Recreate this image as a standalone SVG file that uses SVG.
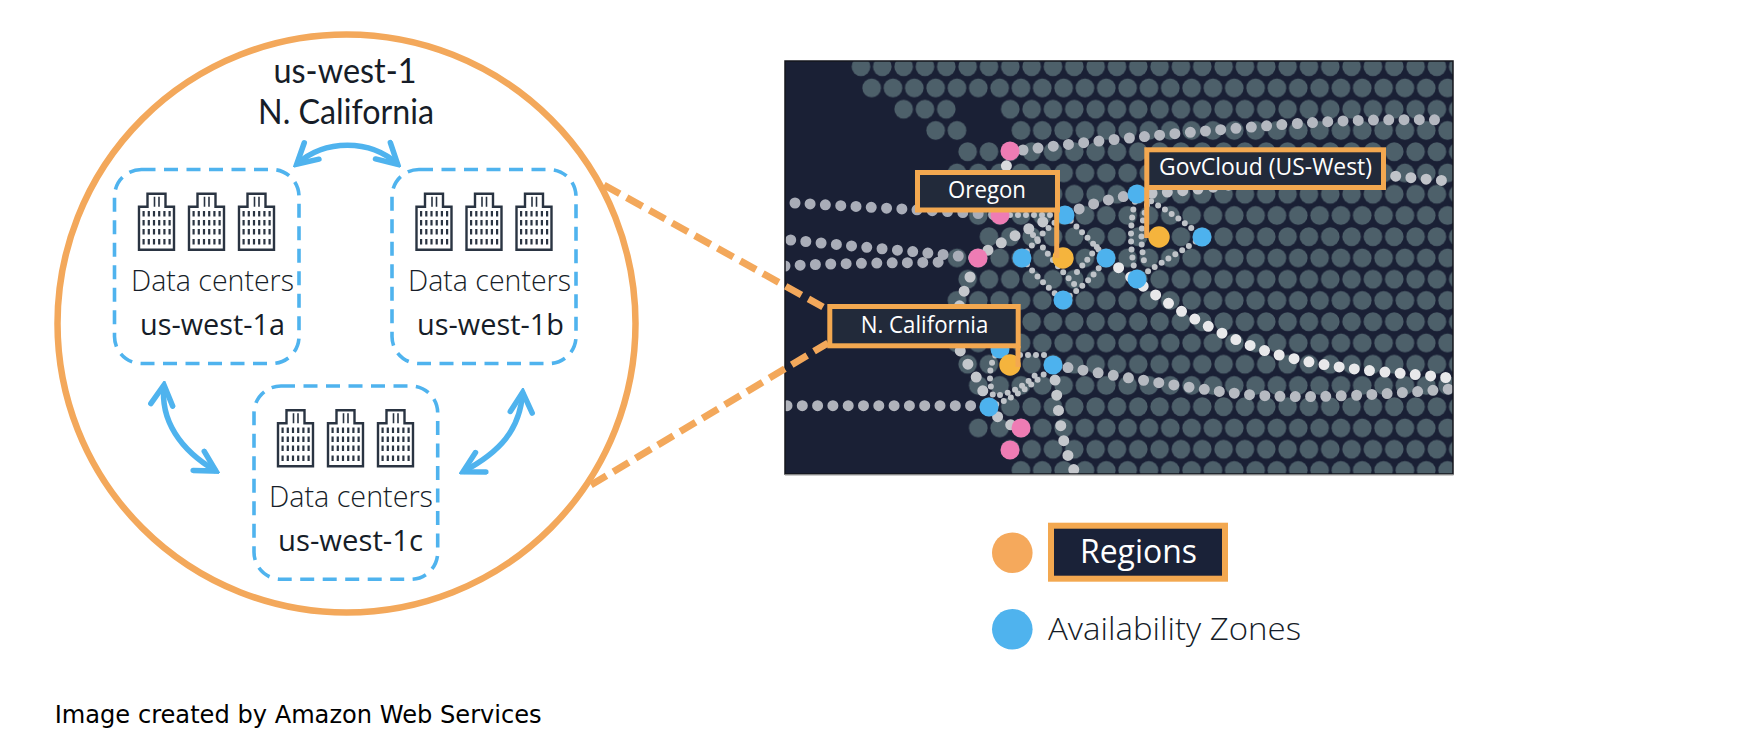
<svg xmlns="http://www.w3.org/2000/svg" width="1758" height="742" viewBox="0 0 1758 742">
<style>
text{font-family:"Open Sans","Noto Sans","Liberation Sans",sans-serif}
.lt{font-weight:400;fill:#161d28}
.ti{font-size:34px;font-family:Lato,"Open Sans",sans-serif}
.dc{font-size:30px;font-weight:300}
.az{font-size:30px}
.lb{font-weight:500;fill:#fff;font-size:23px}
.lbox{fill:#222a3a;stroke:#f3a850;stroke-width:5}
.lead{stroke:#f3a850;stroke-width:5;fill:none}
.dash{fill:none;stroke:#4fb3ee;stroke-width:3.6;stroke-dasharray:14 8.5}
.arr{fill:none;stroke:#4fb3ee;stroke-width:5.5;marker-start:url(#ah);marker-end:url(#ah)}
.zoomline{fill:none;stroke:#f3a85b;stroke-width:7;stroke-dasharray:18 8}
.t{fill:none;stroke-linecap:round;stroke-dasharray:0 15.3;stroke-width:11}
.s{fill:none;stroke-linecap:round;stroke-dasharray:0 8;stroke-width:6;stroke:#bfc3c8}
.p{fill:#ee7cb4}.b{fill:#4db2ee}.o{fill:#f5b43c}
</style>
<defs>
<marker id="ah" viewBox="-24 -14 28 28" refX="0" refY="0" markerUnits="userSpaceOnUse" markerWidth="28" markerHeight="28" orient="auto-start-reverse">
<path d="M-20,-11 L0,0 L-20,11" fill="none" stroke="#4fb3ee" stroke-width="5.5" stroke-linecap="round" stroke-linejoin="miter"/>
</marker>
<pattern id="grid" patternUnits="userSpaceOnUse" x="850.33" y="56.08" width="21.33" height="42.5">
<circle cx="10.67" cy="10.62" r="9.3" fill="#4e616b"/>
<circle cx="0" cy="31.87" r="9.3" fill="#4e616b"/>
<circle cx="21.33" cy="31.87" r="9.3" fill="#4e616b"/>
</pattern>
<filter id="soft" x="-2%" y="-2%" width="104%" height="104%"><feGaussianBlur stdDeviation="0.7"/></filter>
<clipPath id="mapclip"><rect x="785" y="61" width="668" height="413"/></clipPath>
<g id="bld">
<path d="M1,14H9.5V1H27.5V14H36V57H1Z" fill="#fff" stroke="#2a3442" stroke-width="2.4"/>
<path d="M16.5,4V14M21,4V14" stroke="#2a3442" stroke-width="1.6" fill="none"/>
<path d="M4.5,21H34M4.5,30H34M4.5,39H34M4.5,49H34" stroke="#2a3442" stroke-width="5.5" stroke-dasharray="2.2 3" fill="none"/>
</g>
</defs>
<rect width="1758" height="742" fill="#fff"/>

<g id="map" clip-path="url(#mapclip)">
<rect x="785" y="61" width="668" height="413" fill="#1a2035"/>
<g filter="url(#soft)">
<g fill="url(#grid)">
<rect x="850.3" y="56.1" width="603" height="21.25"/>
<rect x="861" y="77.35" width="592" height="21.25"/>
<rect x="893" y="98.6" width="64" height="21.25"/><rect x="999.7" y="98.6" width="454" height="21.25"/>
<rect x="925" y="119.85" width="42.7" height="21.25"/><rect x="1010.4" y="119.85" width="443" height="21.25"/>
<rect x="957" y="141.1" width="496" height="21.25"/>
<rect x="946.4" y="162.35" width="507" height="21.25"/>
<rect x="957" y="183.6" width="496" height="21.25"/>
<rect x="967.7" y="204.85" width="486" height="21.25"/>
<rect x="978.4" y="226.1" width="475" height="21.25"/>
<rect x="946.4" y="247.35" width="507" height="21.25"/>
<rect x="957" y="268.6" width="496" height="21.25"/>
<rect x="946.4" y="289.85" width="507" height="21.25"/>
<rect x="957" y="311.1" width="496" height="21.25"/>
<rect x="946.4" y="332.35" width="507" height="21.25"/>
<rect x="957" y="353.6" width="496" height="21.25"/>
<rect x="967.7" y="374.85" width="486" height="21.25"/>
<rect x="978.4" y="396.1" width="475" height="21.25"/>
<rect x="967.7" y="417.35" width="486" height="21.25"/>
<rect x="999.7" y="438.6" width="454" height="21.25"/>
<rect x="1010.4" y="459.85" width="443" height="21.25"/>
</g>
<path class="t" stroke="#b4b8c0" d="M1023,150 C1090,141 1170,134 1252,127 S1380,119 1450,120"/>
<path class="t" stroke="#a9adb8" d="M795,203 C860,207 930,210 1000,215"/>
<path class="t" stroke="#a9adb8" d="M790.7,240 C850,246 920,252 978,258"/>
<path class="t" stroke="#a9adb8" d="M785,266 C830,263 900,263 950,262"/>
<path class="t" stroke="#b0b3bb" d="M787,405.7 H989"/>
<path class="t" stroke="#d8dadd" d="M1010,151 L1003,180"/>
<path class="t" stroke="#b4b7bf" d="M1065,215 C1090,203 1115,198 1137,194"/>
<path class="t" stroke="#c0c3c9" d="M1137,194 C1190,192 1250,182 1300,175 S1400,178 1450,181"/>
<path class="t" stroke="#e8e8ea" d="M1107,258 C1150,295 1220,340 1283,356 S1400,372 1450,378"/>
<path class="t" stroke="#b6bac1" d="M1053,365 C1110,375 1170,385 1224,392 S1340,398 1450,389"/>
<path class="t" stroke="#c4c7cc" d="M1053,365 C1058,395 1058,440 1075,472"/>
<path class="t" stroke="#c4c7cc" d="M970,277 C955,310 950,340 967,363 S985,400 989,407 S1005,425 1021,428"/>
<path class="t" stroke="#c4c7cc" d="M975,258 C995,245 1030,228 1055,216"/>
<path class="s" d="M1065,215 C1080,230 1095,245 1106,258"/>
<path class="s" d="M1022,258 C1035,240 1050,225 1065,215"/>
<path class="s" d="M1010,215 H1055"/>
<path class="s" d="M1022,258 C1035,275 1050,290 1063,300"/>
<path class="s" d="M1033,235 C1045,250 1060,270 1075,285"/>
<path class="s" d="M1063,300 C1080,290 1095,275 1106,258"/>
<path class="s" d="M1077,272 C1085,262 1092,255 1098,245"/>
<path class="s" d="M989,407 C1010,400 1035,385 1053,365"/>
<path class="s" d="M1000,395 C1015,392 1030,382 1040,370"/>
<path class="s" d="M1000,349 C985,365 990,390 995,400"/>
<path class="s" d="M1020,355 H1050"/>
<path class="s" d="M1137,194 C1128,225 1130,255 1137,279"/>
<path class="s" d="M1147,205 C1140,225 1140,245 1145,265"/>
<path class="s" d="M1137,194 C1160,205 1185,222 1202,237"/>
<path class="s" d="M1202,237 C1185,250 1160,262 1137,279"/>
<circle class="p" cx="1010" cy="151" r="9.5"/><circle class="p" cx="1000" cy="215" r="9.5"/><circle class="p" cx="978" cy="258" r="9.5"/><circle class="p" cx="1021" cy="428" r="9.5"/><circle class="p" cx="1010" cy="450" r="9.5"/>
<circle class="b" cx="1065" cy="215" r="9.5"/><circle class="b" cx="1022" cy="258" r="9.5"/><circle class="b" cx="1106" cy="258" r="9.5"/><circle class="b" cx="1063" cy="300" r="9.5"/><circle class="b" cx="1137" cy="194" r="9.5"/><circle class="b" cx="1202" cy="237" r="9.5"/><circle class="b" cx="1137" cy="279" r="9.5"/><circle class="b" cx="1000" cy="349" r="9.5"/><circle class="b" cx="1053" cy="365" r="9.5"/><circle class="b" cx="989" cy="407" r="9.5"/>
<circle class="o" cx="1063" cy="258" r="10.7"/><circle class="o" cx="1159" cy="237" r="10.7"/><circle class="o" cx="1010" cy="365" r="10.7"/>
</g>
</g>
<rect x="785" y="61" width="668" height="413" fill="none" stroke="#14161c" stroke-width="1.5"/>
<path d="M785,474.8H1453.5" stroke="#9a9a9a" stroke-width="1.2" fill="none"/>

<g id="connectors">
<path class="zoomline" d="M604,185 L823,307"/>
<path class="zoomline" d="M591,485 L828,343"/>
<path class="arr" d="M296.7,164.3 C325,139 370,139 397.7,164.3"/>
<path class="arr" d="M164,385 C160,420 180,450 216,471"/>
<path class="arr" d="M522.7,392.3 C520,430 500,452 463,471.7"/>
<path class="lead" d="M1056.7,210V258"/>
<path class="lead" d="M1146.7,188V238"/>
<path class="lead" d="M1018,346V367"/>
</g>

<g id="region-circle">
<circle cx="346.5" cy="323.5" r="289" fill="none" stroke="#f3a85b" stroke-width="6.5"/>
<text class="lt ti" x="345" y="83" text-anchor="middle" textLength="143" lengthAdjust="spacingAndGlyphs">us-west-1</text>
<text class="lt ti" x="346" y="124" text-anchor="middle" textLength="176" lengthAdjust="spacingAndGlyphs">N. California</text>
</g>

<g id="az-a">
<rect class="dash" x="114.5" y="169.5" width="184.5" height="194" rx="27"/>
<use href="#bld" x="138" y="192.7"/><use href="#bld" x="188" y="192.7"/><use href="#bld" x="238" y="192.7"/>
<text class="lt dc" x="131" y="291" textLength="163" lengthAdjust="spacingAndGlyphs">Data centers</text>
<text class="lt az" x="140" y="335" textLength="145" lengthAdjust="spacingAndGlyphs">us-west-1a</text>
</g>
<g id="az-b">
<rect class="dash" x="392" y="169.5" width="184" height="194" rx="27"/>
<use href="#bld" x="415.5" y="192.7"/><use href="#bld" x="465.5" y="192.7"/><use href="#bld" x="515.5" y="192.7"/>
<text class="lt dc" x="408" y="291" textLength="163" lengthAdjust="spacingAndGlyphs">Data centers</text>
<text class="lt az" x="417" y="335" textLength="147" lengthAdjust="spacingAndGlyphs">us-west-1b</text>
</g>
<g id="az-c">
<rect class="dash" x="254" y="386" width="183.7" height="193.3" rx="27"/>
<use href="#bld" x="277" y="409.3"/><use href="#bld" x="327" y="409.3"/><use href="#bld" x="377" y="409.3"/>
<text class="lt dc" x="269" y="506.7" textLength="164" lengthAdjust="spacingAndGlyphs">Data centers</text>
<text class="lt az" x="278" y="550.7" textLength="145" lengthAdjust="spacingAndGlyphs">us-west-1c</text>
</g>

<g id="label-oregon">
<rect class="lbox" x="917.5" y="172.5" width="140" height="37.5"/>
<text class="lb" x="987" y="197.7" text-anchor="middle" textLength="78" lengthAdjust="spacingAndGlyphs">Oregon</text>
</g>
<g id="label-govcloud">
<rect class="lbox" x="1146.8" y="149.8" width="236.7" height="37.7"/>
<text class="lb" x="1159" y="175" textLength="213" lengthAdjust="spacingAndGlyphs">GovCloud (US-West)</text>
</g>
<g id="label-ncal">
<rect class="lbox" x="829.8" y="306.5" width="188.4" height="39.3"/>
<text class="lb" x="860.7" y="333.3" textLength="127.6" lengthAdjust="spacingAndGlyphs">N. California</text>
</g>

<g id="legend-regions">
<circle cx="1012.3" cy="552.7" r="20.3" fill="#f5a95c"/>
<rect x="1051" y="525.7" width="174" height="53" fill="#1a2238" stroke="#f3a850" stroke-width="6"/>
<text x="1080" y="562.7" fill="#fff" font-size="32" font-weight="500" textLength="117" lengthAdjust="spacingAndGlyphs">Regions</text>
</g>
<g id="legend-az">
<circle cx="1012.3" cy="629.3" r="20.3" fill="#4fb3ee"/>
<text x="1048" y="640" font-size="32" font-weight="300" fill="#161d28" textLength="253" lengthAdjust="spacingAndGlyphs">Availability Zones</text>
</g>

<text x="54.7" y="723" fill="#000" style="font-family:'DejaVu Sans',Verdana,sans-serif" font-size="24" textLength="487" lengthAdjust="spacingAndGlyphs">Image created by Amazon Web Services</text>
</svg>
